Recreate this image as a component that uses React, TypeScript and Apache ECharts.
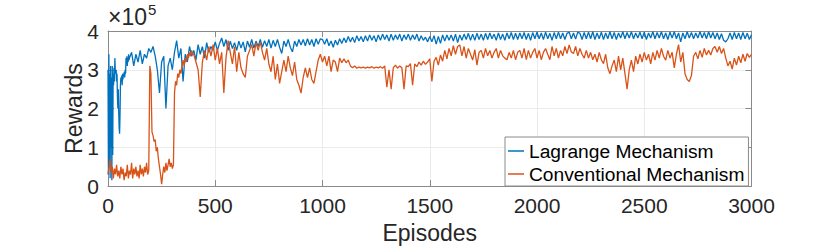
import React, { useEffect, useRef } from "react";
import * as echarts from "echarts";

// Rewards are in units of 1e5 (axis shows "×10^5")
const lagEarlyStart = 0;
const lagEarlyStep = 2;
const lagEarly = [
  3.0, 0.3, 3.4, 0.5, 2.9, 0.2, 3.1, 1.0, 2.8, 0.15,
  3.1, 0.8, 2.9, 2.6, 3.05, 2.7, 3.3, 3.0, 2.9, 3.0,
  2.7, 2.9, 2.3, 2.0, 2.5, 1.9, 1.5, 1.35, 1.8, 2.6,
  2.8, 2.7, 2.85, 2.6, 2.9, 2.75, 2.9, 2.85, 2.95, 2.8,
  3.0, 2.9, 3.3, 3.15, 3.35, 3.1, 3.3, 3.2, 3.4, 3.25,
];
const lagRestStart = 100;
const lagRestStep = 10;
const lagRest = [
  3.3, 3.45, 3.1, 3.4, 3.2, 3.5, 3.15, 3.4, 3.3, 3.55,
  3.45, 3.6, 3.35, 3.0, 2.4, 3.2, 3.35, 2.0, 3.1, 3.3,
  3.0, 3.45, 3.75, 3.3, 3.55, 2.7, 3.4, 3.2, 3.6, 3.35,
  3.5, 3.25, 3.65, 3.4, 3.6, 3.3, 3.7, 3.45, 3.6, 3.5,
  3.72, 3.5, 3.68, 3.82, 3.6, 3.78, 3.5, 3.74, 3.55, 3.7,
  3.5, 3.74, 3.56, 3.72, 3.46, 3.74, 3.58, 3.78, 3.56, 3.74,
  3.6, 3.78, 3.58, 3.75, 3.6, 3.78, 3.56, 3.76, 3.6, 3.78,
  3.58, 3.42, 3.74, 3.6, 3.78, 3.58, 3.46, 3.74, 3.6, 3.78,
  3.64, 3.78, 3.62, 3.8, 3.64, 3.78, 3.6, 3.8, 3.66, 3.8,
  3.78, 3.66, 3.8, 3.62, 3.74, 3.58, 3.76, 3.64, 3.8, 3.68,
  3.82, 3.7, 3.86, 3.72, 3.84, 3.7, 3.88, 3.74, 3.86, 3.72,
  3.88, 3.74, 3.9, 3.76, 3.88, 3.72, 3.9, 3.76, 3.92, 3.78,
  3.9, 3.74, 3.92, 3.76, 3.9, 3.78, 3.92, 3.74, 3.9, 3.78,
  3.92, 3.76, 3.9, 3.78, 3.92, 3.74, 3.88, 3.76, 3.84, 3.72,
  3.86, 3.72, 3.88, 3.66, 3.86, 3.68, 3.9, 3.74, 3.9, 3.76,
  3.9, 3.74, 3.92, 3.7, 3.9, 3.76, 3.92, 3.78, 3.94, 3.76,
  3.92, 3.76, 3.94, 3.78, 3.92, 3.76, 3.94, 3.78, 3.95, 3.8,
  3.92, 3.76, 3.95, 3.78, 3.92, 3.76, 3.95, 3.8, 3.96, 3.78,
  3.94, 3.78, 3.95, 3.8, 3.96, 3.78, 3.94, 3.76, 3.96, 3.8,
  3.97, 3.8, 3.95, 3.78, 3.97, 3.8, 3.94, 3.76, 3.96, 3.8,
  3.97, 3.8, 3.95, 3.78, 3.94, 3.97, 3.8, 3.95, 3.79, 3.97,
  3.94, 3.78, 3.96, 3.8, 3.97, 3.8, 3.98, 3.78, 3.95, 3.8,
  3.97, 3.78, 3.95, 3.8, 3.98, 3.8, 3.96, 3.78, 3.95, 3.82,
  3.98, 3.8, 3.96, 3.82, 3.98, 3.8, 3.95, 3.82, 3.97, 3.8,
  3.97, 3.78, 3.95, 3.82, 3.98, 3.8, 3.96, 3.82, 3.98, 3.8,
  3.95, 3.78, 3.97, 3.82, 3.98, 3.8, 3.95, 3.72, 3.95, 3.8,
  3.98, 3.82, 3.96, 3.8, 3.95, 3.82, 3.98, 3.82, 3.96, 3.8,
  3.98, 3.82, 3.96, 3.8, 3.95, 3.78, 3.93, 3.76, 3.72, 3.8,
  3.95, 3.78, 3.96, 3.8, 3.95, 3.78, 3.96, 3.8, 3.94, 3.78,
  3.9,
];

const convEarlyStart = 0;
const convEarlyStep = 5;
const convEarly = [
  0.3, 0.5, 0.7, 0.35, 0.5, 0.2, 0.45, 0.3, 0.55, 0.25,
  0.4, 0.2, 0.5, 0.3, 0.45, 0.15, 0.35, 0.25, 0.55, 0.2,
  0.4, 0.3, 0.6, 0.2, 0.45, 0.3, 0.5, 0.25, 0.4, 0.2,
  0.55, 0.3, 0.45, 0.25, 0.5, 0.35, 0.6, 0.3, 0.4, 3.1,
  2.9, 1.4, 1.3, 1.15, 1.2, 0.9, 1.0, 0.7, 0.5, 0.3,
  0.05, 0.3, 0.5, 0.35, 0.6, 0.4, 0.55, 0.7, 0.5, 0.6,
  0.45, 0.55, 2.4, 2.7, 2.6, 2.9, 2.8, 3.0, 2.9, 3.1,
  3.25, 3.1, 3.3, 3.2, 3.4, 3.3, 3.45, 3.35, 3.5, 3.4,
];
const convRestStart = 400;
const convRestStep = 10;
const convRest = [
  3.4, 3.2, 3.0, 2.3, 3.2, 3.5, 3.25, 3.6, 3.35, 3.65,
  3.25, 3.55, 3.15, 3.45, 2.4, 3.3, 3.75, 3.45, 3.15, 3.6,
  2.95, 3.45, 3.05, 2.9, 2.8, 3.35, 3.5, 3.65, 3.35, 3.7,
  3.5, 3.72, 3.45, 3.25, 3.55, 3.15, 2.95, 3.35, 2.75, 3.15,
  2.65, 2.95, 3.25, 2.95, 3.35, 3.05, 2.85, 3.2, 2.75, 2.6,
  2.4, 2.8, 3.05, 2.8, 3.05, 2.75, 2.65, 2.95, 3.25, 3.4,
  3.2, 3.35, 3.1, 3.35, 2.95, 3.25, 3.2, 2.95, 3.3, 3.18,
  3.28, 3.18, 3.25, 3.1, 3.05, 3.1, 3.04, 3.07, 3.05, 3.07,
  3.04, 3.07, 3.05, 3.08, 3.04, 3.07, 3.05, 3.08, 3.04, 3.1,
  2.55, 3.0, 2.5, 3.05, 3.12, 3.04, 3.1, 3.05, 2.5, 3.1,
  3.08, 3.16, 2.6, 3.15, 3.08, 3.2, 3.12, 3.22, 3.14, 3.2,
  3.28, 2.7, 3.22, 3.32, 3.12, 3.38, 3.22, 3.5, 3.28, 3.55,
  3.36, 3.62, 3.4, 3.6, 3.64, 3.36, 3.6, 3.3, 3.55, 3.4,
  3.25, 3.52, 3.12, 3.45, 3.5, 3.3, 3.55, 3.36, 3.5, 3.3,
  3.45, 3.55, 3.3, 3.5, 3.36, 3.3, 3.26, 3.45, 3.3, 3.5,
  3.26, 3.45, 3.5, 3.3, 3.55, 3.26, 3.5, 3.3, 3.45, 3.55,
  3.3, 3.5, 3.26, 3.45, 3.55, 3.4, 3.26, 3.6, 3.36, 3.55,
  3.3, 3.5, 3.36, 3.6, 3.42, 3.64, 3.46, 3.42, 3.6, 3.36,
  3.55, 3.4, 3.3, 3.5, 3.3, 3.45, 3.26, 3.4, 3.2, 3.45,
  3.26, 3.16, 3.4, 3.05, 2.9, 3.1, 3.25, 2.95, 3.35, 3.0,
  3.3, 2.9, 2.5, 3.0, 3.25, 2.95, 3.35, 3.15, 3.4, 3.2,
  3.45, 3.25, 3.4, 3.15, 3.45, 3.25, 3.5, 3.3, 3.55, 3.35,
  3.25, 3.5, 3.3, 3.45, 3.05, 3.4, 3.65, 3.2, 3.45, 2.9,
  2.75, 2.7, 2.85, 3.35, 3.45, 3.28, 3.5, 3.32, 3.55, 3.38,
  3.5, 3.38, 3.55, 3.6, 3.45, 3.6, 3.42, 3.55, 3.3, 3.1,
  3.22, 3.02, 3.3, 3.12, 3.35, 3.18, 3.4, 3.22, 3.42, 3.32,
  3.4,
];

const xTicks = { min: 0, max: 3000, interval: 500 };
const yTicks = { min: 0, max: 4, interval: 1 };
const seriesNames = ["Lagrange Mechanism", "Conventional Mechanism"];

function toPairs(start: number, step: number, vals: number[]) {
  return vals.map((v, i) => [start + i * step, v]);
}

const FONT = 'Arial, "Liberation Sans", Helvetica, sans-serif';
const AX = "#8a8a8a";

export default function App() {
  const ref = useRef<HTMLDivElement>(null);
  useEffect(() => {
    if (!ref.current) return;
    const chart = echarts.init(ref.current, null, { renderer: "svg" });
    const lagData = [
      ...toPairs(lagEarlyStart, lagEarlyStep, lagEarly),
      ...toPairs(lagRestStart, lagRestStep, lagRest),
    ];
    const convData = [
      ...toPairs(convEarlyStart, convEarlyStep, convEarly),
      ...toPairs(convRestStart, convRestStep, convRest),
    ];
    const baseAxisLine = { show: true, onZero: false, lineStyle: { color: AX, width: 1 } };
    const tick = { show: true, inside: true, length: 6, lineStyle: { color: AX, width: 1 } };
    const plain = (v: number) => String(v);
    chart.setOption({
      animation: false,
      backgroundColor: "#ffffff",
      grid: { left: 108, top: 31, width: 643.5, height: 159, containLabel: false },
      xAxis: [
        {
          type: "value",
          ...xTicks,
          position: "bottom",
          axisLine: baseAxisLine,
          axisTick: tick,
          axisLabel: { fontSize: 21, color: "#262626", margin: 9, fontFamily: FONT, formatter: plain },
          splitLine: { show: true, lineStyle: { color: "#ebebeb", width: 1 } },
          name: "Episodes",
          nameLocation: "middle",
          nameGap: 34,
          nameTextStyle: { fontSize: 23, color: "#262626", fontFamily: FONT },
        },
        {
          type: "value",
          ...xTicks,
          position: "top",
          axisLine: baseAxisLine,
          axisTick: tick,
          axisLabel: { show: false },
          splitLine: { show: false },
        },
      ],
      yAxis: [
        {
          type: "value",
          ...yTicks,
          position: "left",
          axisLine: baseAxisLine,
          axisTick: tick,
          axisLabel: { fontSize: 21, color: "#262626", margin: 9, fontFamily: FONT, formatter: plain },
          splitLine: { show: true, lineStyle: { color: "#ebebeb", width: 1 } },
          name: "Rewards",
          nameLocation: "middle",
          nameGap: 23,
          nameMoveOverlap: false,
          nameTextStyle: { fontSize: 23, color: "#262626", fontFamily: FONT },
        },
        {
          type: "value",
          ...yTicks,
          position: "right",
          axisLine: baseAxisLine,
          axisTick: tick,
          axisLabel: { show: false },
          splitLine: { show: false },
        },
      ],
      legend: {
        data: seriesNames,
        orient: "vertical",
        left: 505,
        top: 137,
        icon: "rect",
        itemWidth: 16,
        itemHeight: 1.5,
        itemGap: 3,
        padding: [4, 4, 2, 3],
        backgroundColor: "#ffffff",
        borderColor: AX,
        borderWidth: 1,
        textStyle: { fontSize: 19.2, color: "#000000", fontFamily: FONT, lineHeight: 20 },
      },
      graphic: [
        {
          type: "text",
          left: 108,
          top: 5,
          style: { text: "×10", fontSize: 23, fill: "#262626", fontFamily: FONT },
        },
        {
          type: "text",
          left: 148,
          top: 2,
          style: { text: "5", fontSize: 15, fill: "#262626", fontFamily: FONT },
        },
      ],
      series: [
        {
          name: seriesNames[0],
          type: "line",
          data: lagData,
          showSymbol: false,
          color: "#0072BD",
          lineStyle: { width: 1.3, color: "#0072BD" },
        },
        {
          name: seriesNames[1],
          type: "line",
          data: convData,
          showSymbol: false,
          color: "#D95319",
          lineStyle: { width: 1.3, color: "#D95319" },
        },
      ],
    });
    return () => chart.dispose();
  }, []);
  return (
    <div
      ref={ref}
      style={{ position: "fixed", left: 0, top: 0, width: 830, height: 249 }}
    />
  );
}
